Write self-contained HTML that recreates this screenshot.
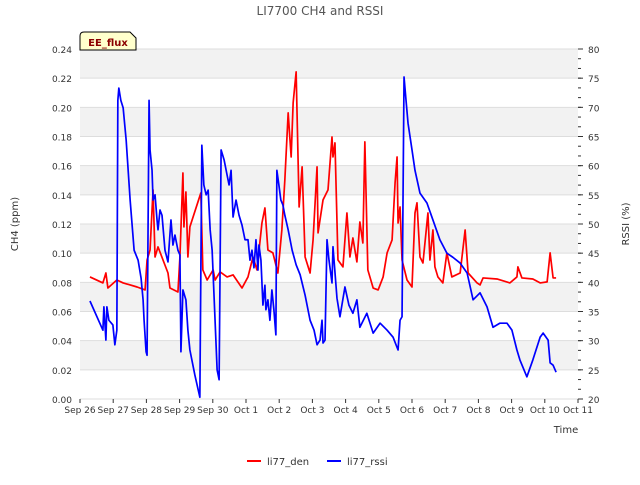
<!DOCTYPE html>
<html><head><meta charset="utf-8"><style>
body{margin:0;background:#fff;}
svg text{font-family:"DejaVu Sans","Liberation Sans",sans-serif;}
</style></head><body>
<svg id="chart" width="640" height="480" xmlns="http://www.w3.org/2000/svg">
<rect width="640" height="480" fill="#fff"/>
<text x="320" y="15" text-anchor="middle" font-size="12" fill="#555">LI7700 CH4 and RSSI</text>
<g id="bands"></g><g id="grid"></g><g id="axes"></g><g id="series"></g>
<text x="566" y="433" text-anchor="middle" font-size="10" fill="#333">Time</text>
<text x="18" y="224" text-anchor="middle" font-size="10" fill="#333" transform="rotate(-90 18 224)">CH4 (ppm)</text>
<text x="629" y="224" text-anchor="middle" font-size="10" fill="#333" transform="rotate(-90 629 224)">RSSI (%)</text>
<g>
<path d="M80,50 L80,36 Q80,32 84,32 L130,32 L136,38 L136,50 Z" fill="#ffffcc" stroke="#000" stroke-width="1"/>
<text x="108" y="46" text-anchor="middle" font-size="10" font-weight="bold" fill="#8b0000">EE_flux</text>
</g>
<g>
<g><line x1="247" y1="461" x2="261" y2="461" stroke="#f00" stroke-width="2"/><text x="267" y="465" font-size="10" fill="#333">li77_den</text></g>
<g><line x1="327" y1="461" x2="341" y2="461" stroke="#00f" stroke-width="2"/><text x="347" y="465" font-size="10" fill="#333">li77_rssi</text></g>
</g>
</svg>
<script>
const xTickLabels=["Sep 26","Sep 27","Sep 28","Sep 29","Sep 30","Oct 1","Oct 2","Oct 3","Oct 4","Oct 5","Oct 6","Oct 7","Oct 8","Oct 9","Oct 10","Oct 11"];
const yTicks=[0,0.02,0.04,0.06,0.08,0.10,0.12,0.14,0.16,0.18,0.20,0.22,0.24];
const y2Ticks=[20,25,30,35,40,45,50,55,60,65,70,75,80];
const denDays=[0.30,0.69,0.78,0.84,1.11,1.30,1.72,1.96,2.02,2.11,2.20,2.26,2.35,2.65,2.71,2.95,3.01,3.10,3.13,3.19,3.25,3.31,3.64,3.70,3.83,4.01,4.07,4.22,4.43,4.61,4.88,5.06,5.21,5.33,5.48,5.57,5.66,5.81,5.96,6.08,6.17,6.27,6.36,6.42,6.51,6.60,6.69,6.78,6.93,7.02,7.14,7.17,7.32,7.47,7.59,7.62,7.68,7.77,7.92,8.04,8.13,8.22,8.34,8.43,8.52,8.58,8.67,8.83,8.98,9.13,9.25,9.40,9.49,9.55,9.58,9.64,9.70,9.85,10.00,10.09,10.15,10.24,10.33,10.45,10.48,10.54,10.63,10.69,10.78,10.93,11.05,11.20,11.45,11.60,11.69,11.96,12.05,12.14,12.56,12.95,13.16,13.19,13.31,13.64,13.86,14.07,14.16,14.25,14.34];
const denVals=[0.0837,0.0796,0.0864,0.0761,0.0816,0.0796,0.0768,0.0748,0.0953,0.1022,0.1434,0.0974,0.1043,0.0864,0.0761,0.0734,0.0974,0.1550,0.1180,0.1420,0.0974,0.1180,0.1413,0.0885,0.0816,0.0885,0.0816,0.0871,0.0837,0.0851,0.0761,0.0837,0.0974,0.0885,0.1207,0.1310,0.1022,0.1002,0.0864,0.1159,0.1502,0.1962,0.1660,0.2031,0.2243,0.1317,0.1592,0.0974,0.0864,0.1091,0.1592,0.1139,0.1365,0.1434,0.1797,0.1660,0.1756,0.0953,0.0906,0.1276,0.0974,0.1104,0.0940,0.1214,0.1070,0.1763,0.0885,0.0761,0.0748,0.0837,0.1002,0.1091,0.1482,0.1660,0.1207,0.1317,0.0953,0.0816,0.0768,0.1276,0.1345,0.0974,0.0933,0.1207,0.1276,0.0953,0.1159,0.0906,0.0837,0.0796,0.1002,0.0837,0.0864,0.1159,0.0864,0.0796,0.0782,0.0830,0.0823,0.0796,0.0837,0.0906,0.0830,0.0823,0.0796,0.0803,0.1002,0.0830,0.0830];
const rssiDays=[0.30,0.69,0.72,0.78,0.81,0.87,0.99,1.05,1.11,1.14,1.17,1.23,1.30,1.39,1.51,1.63,1.75,1.84,1.90,1.93,1.99,2.02,2.08,2.11,2.17,2.20,2.26,2.32,2.35,2.41,2.47,2.56,2.65,2.74,2.80,2.86,2.95,3.01,3.04,3.10,3.19,3.25,3.31,3.46,3.61,3.67,3.73,3.80,3.86,3.92,3.98,4.13,4.19,4.25,4.34,4.43,4.49,4.55,4.61,4.70,4.79,4.88,4.97,5.06,5.12,5.18,5.24,5.30,5.36,5.39,5.45,5.51,5.57,5.60,5.66,5.72,5.78,5.84,5.90,5.93,5.99,6.05,6.11,6.17,6.27,6.39,6.51,6.63,6.78,6.93,7.05,7.14,7.23,7.29,7.32,7.38,7.44,7.50,7.59,7.62,7.74,7.83,7.98,8.10,8.22,8.34,8.43,8.64,8.83,9.04,9.25,9.43,9.58,9.64,9.70,9.76,9.82,9.88,10.00,10.09,10.24,10.45,10.63,10.84,11.05,11.23,11.45,11.66,11.84,12.05,12.26,12.44,12.65,12.86,13.01,13.16,13.25,13.46,13.64,13.86,13.95,14.10,14.16,14.25,14.34];
const rssiVals=[36.8,31.8,35.8,30.1,35.8,33.5,32.7,29.3,31.8,71.2,73.3,71.2,69.9,64.4,54.1,45.5,43.8,40.7,37.0,33.5,28.1,27.5,71.2,62.7,59.2,54.1,55.0,50.7,49.0,52.4,51.5,45.5,43.5,50.7,46.4,48.1,45.5,44.7,28.1,38.7,37.0,31.8,28.4,24.1,20.3,63.5,56.7,55.0,55.8,49.0,45.5,25.0,23.3,62.7,61.0,58.4,56.7,59.2,51.2,54.1,51.5,49.8,47.3,47.3,43.8,45.5,42.5,47.3,42.1,46.4,43.8,36.1,39.5,35.3,37.0,33.5,38.7,35.3,31.0,59.2,56.7,54.1,53.3,51.5,49.0,45.5,43.0,41.3,37.8,33.5,31.8,29.3,30.1,33.5,29.6,30.1,47.3,43.8,39.9,46.1,37.3,34.1,39.2,36.1,34.7,37.0,32.3,34.7,31.3,33.0,31.8,30.6,28.4,33.5,34.1,75.2,71.2,67.3,62.7,59.2,55.3,53.6,50.7,47.3,45.0,44.3,43.3,41.6,37.0,38.2,35.8,32.3,33.0,33.0,31.8,28.4,26.7,23.8,26.7,30.6,31.3,30.1,26.2,25.8,24.6];

const L=80,R=578,T=49,B=399;
const xs=d=>L+d*(R-L)/15;
const ys=v=>B-v/0.24*(B-T);
const ys2=v=>B-(v-20)/60*(B-T);
const NS="http://www.w3.org/2000/svg";
function mk(tag,attrs,parent){const e=document.createElementNS(NS,tag);for(const k in attrs)e.setAttribute(k,attrs[k]);parent.appendChild(e);return e;}
const bands=document.getElementById('bands'),grid=document.getElementById('grid'),axes=document.getElementById('axes'),series=document.getElementById('series');
mk('rect',{x:L,y:T,width:R-L,height:B-T,fill:'#fff'},bands);
for(let i=0;i<yTicks.length-1;i++){
  if(i%2===1){const r=mk('rect',{x:L,y:ys(yTicks[i+1]),width:R-L,height:ys(yTicks[i])-ys(yTicks[i+1]),fill:'#f2f2f2'},bands);
  
  }
}
yTicks.forEach(v=>{
  const l=mk('line',{x1:L,x2:R,y1:ys(v),y2:ys(v),stroke:'#ddd','stroke-width':1},grid);
  
  
  const t=mk('text',{x:L-8,y:ys(v)+4,'text-anchor':'end','font-size':9,fill:'#333'},axes);
  t.textContent=v.toFixed(2);
  
  
});
y2Ticks.forEach(v=>{
  const t=mk('text',{x:R+10,y:ys2(v)+4,'text-anchor':'start','font-size':9,fill:'#333'},axes);
  t.textContent=v;
  
  
  mk('line',{x1:R,x2:R+5,y1:ys2(v),y2:ys2(v),stroke:'#333'},axes);
});
for(let y=B;y>=T-0.5;y-=(B-T)/36){mk('line',{x1:R,x2:R+3,y1:y,y2:y,stroke:'#333'},axes);}
xTickLabels.forEach((s,i)=>{
  const t=mk('text',{x:xs(i),y:B+14,'text-anchor':'middle','font-size':9,fill:'#333'},axes);
  t.textContent=s;
  
  
  mk('line',{x1:xs(i),x2:xs(i),y1:B,y2:B+4,stroke:'#333'},axes);
});
const p1=mk('polyline',{points:denDays.map((d,i)=>xs(d)+','+ys(denVals[i])).join(' '),fill:'none',stroke:'#f00','stroke-width':1.7,'stroke-linejoin':'round'},series);


const p2=mk('polyline',{points:rssiDays.map((d,i)=>xs(d)+','+ys2(rssiVals[i])).join(' '),fill:'none',stroke:'#00f','stroke-width':1.7,'stroke-linejoin':'round'},series);


</script>
</body></html>
